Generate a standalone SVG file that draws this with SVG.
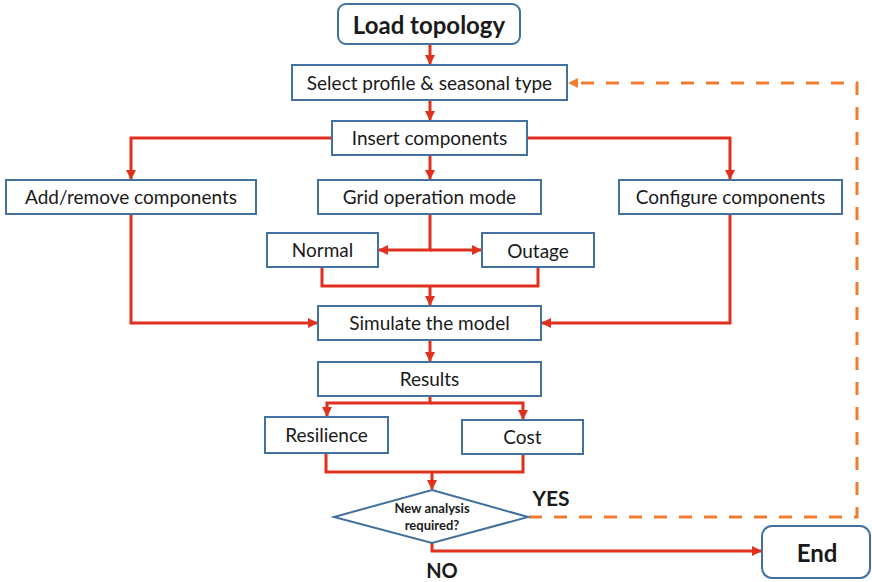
<svg xmlns="http://www.w3.org/2000/svg" width="872" height="582" viewBox="0 0 872 582">
<defs>
<style>
.box{fill:#fff;stroke:#41719C;stroke-width:2}
.t{font-family:Lato,"Liberation Sans",sans-serif;font-size:19px;fill:#1a1a1a;text-anchor:middle;dominant-baseline:central}
.tb{font-family:Lato,"Liberation Sans",sans-serif;font-weight:bold;fill:#1a1a1a;text-anchor:middle;dominant-baseline:central}
.red{fill:none;stroke:#E0301E;stroke-width:3}
.dash{fill:none;stroke:#ED7D31;stroke-width:3;stroke-dasharray:13 12}
</style>
<marker id="ar" viewBox="0 0 10 10" refX="9" refY="5" markerWidth="10" markerHeight="10" markerUnits="userSpaceOnUse" orient="auto">
<path d="M0,0 L10,5 L0,10 z" fill="#E0301E"/>
</marker>
<marker id="ao" viewBox="0 0 10 10" refX="9" refY="5" markerWidth="10" markerHeight="10" markerUnits="userSpaceOnUse" orient="auto">
<path d="M0,0 L10,5 L0,10 z" fill="#ED7D31"/>
</marker>
</defs>
<rect width="872" height="582" fill="#fff"/>
<g id="connectors">
<path class="red" d="M430,44 V64" marker-end="url(#ar)"/>
<path class="red" d="M430,100 V120" marker-end="url(#ar)"/>
<path class="red" d="M332,138 H131 V179" marker-end="url(#ar)"/>
<path class="red" d="M430,155 V179" marker-end="url(#ar)"/>
<path class="red" d="M527,138 H730 V179" marker-end="url(#ar)"/>
<path class="red" d="M430,214 V250 H379" marker-end="url(#ar)"/>
<path class="red" d="M430,250 H481" marker-end="url(#ar)"/>
<path class="red" d="M322,267 V286 H538 V267"/>
<path class="red" d="M430,286 V305" marker-end="url(#ar)"/>
<path class="red" d="M131,214 V323 H317" marker-end="url(#ar)"/>
<path class="red" d="M730,214 V323 H542" marker-end="url(#ar)"/>
<path class="red" d="M430,340 V361" marker-end="url(#ar)"/>
<path class="red" d="M430,396 V403 H327 V416" marker-end="url(#ar)"/>
<path class="red" d="M430,403 H523 V419" marker-end="url(#ar)"/>
<path class="red" d="M326,453 V472 H523 V454"/>
<path class="red" d="M432,472 V489" marker-end="url(#ar)"/>
<path class="red" d="M432,543 V551 H761" marker-end="url(#ar)"/>
<path class="dash" d="M529,517 H857 V83 H569" marker-end="url(#ao)"/>
</g>
<g id="load"><rect class="box" x="338" y="4" width="182" height="40" rx="8"/><text class="tb" x="429" y="24" font-size="24">Load topology</text></g>
<g id="select"><rect class="box" x="292" y="65" width="275" height="35"/><text class="t" x="429.5" y="82">Select profile &amp; seasonal type</text></g>
<g id="insert"><rect class="box" x="332" y="121" width="195" height="34"/><text class="t" x="429.5" y="137">Insert components</text></g>
<g id="addremove"><rect class="box" x="6" y="180" width="250" height="34"/><text class="t" x="131" y="196">Add/remove components</text></g>
<g id="grid"><rect class="box" x="318" y="180" width="223" height="34"/><text class="t" x="429.5" y="196">Grid operation mode</text></g>
<g id="configure"><rect class="box" x="619" y="180" width="223" height="34"/><text class="t" x="730.5" y="196">Configure components</text></g>
<g id="normal"><rect class="box" x="267" y="233" width="111" height="34"/><text class="t" x="322.5" y="249">Normal</text></g>
<g id="outage"><rect class="box" x="482" y="233" width="112" height="34"/><text class="t" x="538" y="250">Outage</text></g>
<g id="simulate"><rect class="box" x="318" y="306" width="223" height="34"/><text class="t" x="429.5" y="322">Simulate the model</text></g>
<g id="results"><rect class="box" x="318" y="362" width="223" height="34"/><text class="t" x="429.5" y="378">Results</text></g>
<g id="resilience"><rect class="box" x="265" y="417" width="123" height="36"/><text class="t" x="326.5" y="434">Resilience</text></g>
<g id="cost"><rect class="box" x="462" y="420" width="121" height="34"/><text class="t" x="522.5" y="436">Cost</text></g>
<g id="decision"><polygon class="box" points="432,490 528,517 432,543 334,517"/><text class="tb" x="432" y="508" font-size="13">New analysis</text><text class="tb" x="432" y="525" font-size="13">required?</text></g>
<g id="end"><rect class="box" x="762" y="526" width="108" height="52" rx="10"/><text class="tb" x="817" y="552" font-size="24">End</text></g>
<g id="labels"><text class="tb" x="551" y="497" font-size="21">YES</text><text class="tb" x="442" y="570" font-size="20">NO</text></g>
</svg>
